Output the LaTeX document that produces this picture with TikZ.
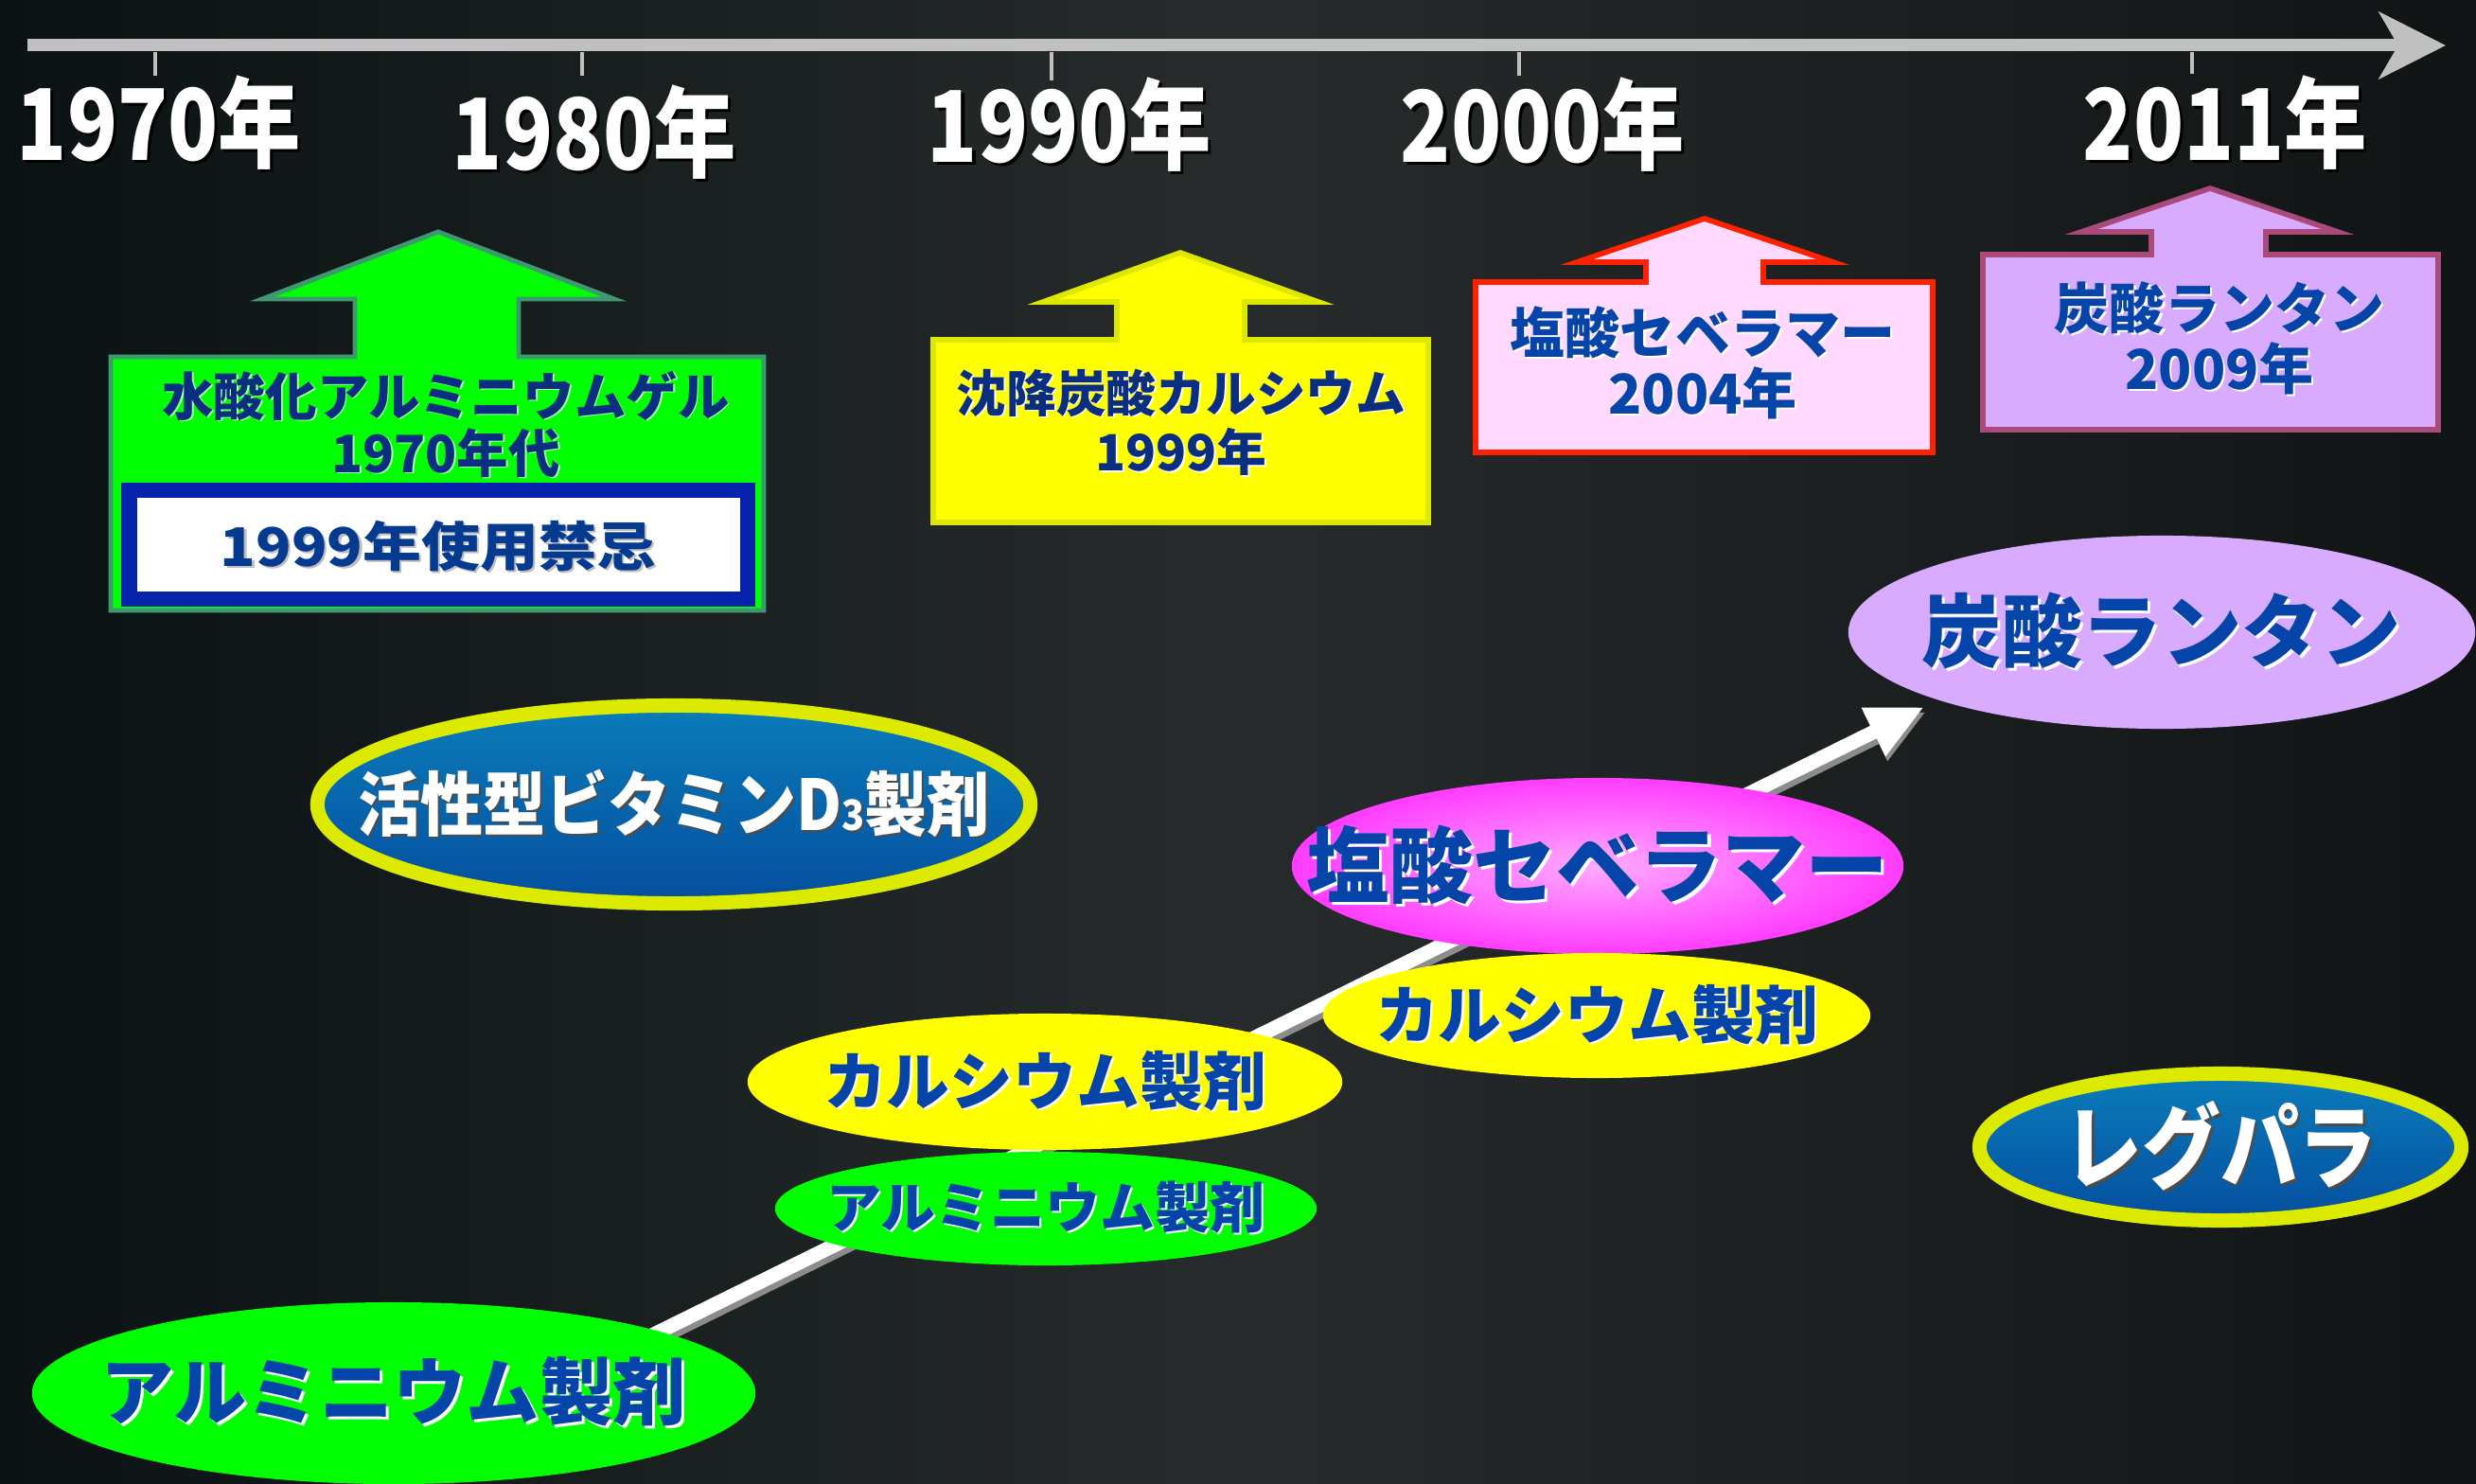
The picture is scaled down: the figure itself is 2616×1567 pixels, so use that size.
\documentclass[tikz,border=0pt]{standalone}
\usepackage{fontspec}
\usepackage{graphicx}
\newfontfamily\jp{Noto Sans CJK JP}
\usetikzlibrary{shapes.geometric,arrows.meta}
\definecolor{bgL}{HTML}{0B1213}
\definecolor{bgM}{HTML}{272B2B}
\definecolor{bgR}{HTML}{101414}
\definecolor{axisgray}{HTML}{C0C0C0}
\definecolor{navy}{HTML}{0A2E80}
\definecolor{blu}{HTML}{0544A8}
\definecolor{greenF}{HTML}{00FF00}
\definecolor{greenB}{HTML}{3D9A70}
\definecolor{yelF}{HTML}{FFFF00}
\definecolor{yelB}{HTML}{DCE800}
\definecolor{pinkF}{HTML}{FFD9FF}
\definecolor{redB}{HTML}{FF2200}
\definecolor{lavF}{HTML}{D8ABFF}
\definecolor{mauveB}{HTML}{A94A7A}
\definecolor{banBlue}{HTML}{0522AA}
\definecolor{ring}{HTML}{DCEA00}
\definecolor{vTop}{HTML}{0A7CBA}
\definecolor{vBot}{HTML}{054E9E}
\definecolor{magIn}{HTML}{FFAAFF}
\definecolor{magOut}{HTML}{FF3CFF}
\newcommand\shd[2]{\leavevmode\rlap{\kern0.035em\raisebox{-0.035em}{\color{#1}#2}}#2}
\newcommand\fz[2]{\fontsize{#1}{#2}\selectfont}
\newcommand\yrtxt[1]{\scalebox{0.92}[1.1]{\shd{black}{#1}}}
\tikzset{
  yr/.style={inner sep=0pt, text=white, font=\jp\bfseries\fz{27pt}{30pt}},
  btxt/.style={inner sep=0pt, align=center, font=\jp\bfseries\fz{#1}{1.1\dimexpr#1\relax}},
  callout/.style={line join=miter, line width=1.6pt},
  ell/.style={ellipse, inner sep=0pt},
  etxt/.style={inner sep=0pt, text=blu, font=\jp\bfseries\fz{#1}{#1}},
  tickline/.style={draw=axisgray, line width=1.15pt},
}
\begin{document}
\begin{tikzpicture}[x=0.01cm,y=-0.01cm]
\useasboundingbox (0,0) rectangle (2616,1567);
\shade[left color=bgL, right color=bgR, middle color=bgM] (0,0) rectangle (2616,1567);

% timeline
\coordinate (axS) at (29,48);
\coordinate (axE) at (2584,48);
\draw[line width=3.7pt, axisgray, -{Stealth[length=20pt,width=20pt,inset=5.7pt]}] (axS) -- (axE);
\draw[tickline] (164,55) -- (164,80);
\draw[tickline] (615,55) -- (615,80);
\draw[tickline] (1111,55) -- (1111,85);
\draw[tickline] (1605,55) -- (1605,80);
\draw[tickline] (2316,55) -- (2316,78);

\node[yr] (y70) at (168,131) {\yrtxt{1970年}};
\node[yr] (y80) at (628,141) {\yrtxt{1980年}};
\node[yr] (y90) at (1130,133) {\yrtxt{1990年}};
\node[yr] (y00) at (1630,133) {\yrtxt{2000年}};
\node[yr] (y11) at (2351,131) {\yrtxt{2011年}};

% callout 1 (green)
\filldraw[callout, fill=greenF, draw=greenB, line width=1.4pt]
  (463,245) -- (649,316) -- (548,316) -- (548,377) -- (807,377) -- (807,645)
  -- (117,645) -- (117,377) -- (375,377) -- (375,316) -- (277,316) -- cycle;
\fill[banBlue] (128,510) rectangle (798,641);
\fill[white] (145,526) rectangle (782,625);
\node[btxt=15.5pt, text=navy] (alTxt) at (471,449)
  {\shd{white!70!greenF}{水酸化アルミニウムゲル}\\\shd{white!70!greenF}{1970年代}};
\node[btxt=16pt, text=blu!85!black] (banTxt) at (463,578)
  {\scalebox{1.1}[1]{\shd{black!25}{1999年使用禁忌}}};

% callout 2 (yellow)
\filldraw[callout, fill=yelF, draw=yelB]
  (1247,267) -- (1393,319) -- (1315,319) -- (1315,359) -- (1509,359) -- (1509,552)
  -- (986,552) -- (986,359) -- (1180,359) -- (1180,319) -- (1102,319) -- cycle;
\node[btxt=15pt, text=navy] (caTxt) at (1248,447)
  {\shd{white}{沈降炭酸カルシウム}\\[1.2pt]\shd{white}{1999年}};

% callout 3 (pink)
\filldraw[callout, fill=pinkF, draw=redB]
  (1801,231) -- (1937,277) -- (1863,277) -- (1863,298) -- (2042,298) -- (2042,478)
  -- (1559,478) -- (1559,298) -- (1739,298) -- (1739,277) -- (1666,277) -- cycle;
\node[btxt=16.5pt, text=blu] (sevTxt) at (1799,384)
  {\shd{white}{塩酸セベラマー}\\\shd{white}{2004年}};

% callout 4 (lavender)
\filldraw[callout, fill=lavF, draw=mauveB]
  (2335,199) -- (2470,245) -- (2394,245) -- (2394,269) -- (2576,269) -- (2576,454)
  -- (2095,454) -- (2095,269) -- (2273,269) -- (2273,245) -- (2199,245) -- cycle;
\node[btxt=16.5pt, text=blu] (lanTxt) at (2345,358)
  {\shd{white}{炭酸ランタン}\\\shd{white}{2009年}};

% trend arrow (behind ellipses)
\coordinate (tS) at (640,1435);
\coordinate (tE) at (2033,747);
\draw[line width=4.8pt, black!45, -{Triangle[length=17pt,width=15pt]}] ([shift={(2,5)}]tS) -- ([shift={(2,5)}]tE);
\draw[line width=4.27pt, white, -{Triangle[length=17pt,width=15pt]}] (tS) -- (tE);

% ellipses
\node[ell, draw=ring, line width=4.27pt, top color=vTop, bottom color=vBot,
      minimum width=7.53cm, minimum height=2.09cm] (vitE) at (712,850) {};
\node[inner sep=0pt, text=white, font=\jp\bfseries\fz{20pt}{20pt}] (vitT) at (vitE.center)
  {\scalebox{0.94}[1.05]{\shd{black!70}{活性型ビタミンD{\fz{12pt}{12pt}3}製剤}}};

\node[ell, fill=lavF, minimum width=6.62cm, minimum height=2.04cm] (lanE) at (2284,668) {};
\node[etxt=24pt] (lanT) at (lanE.center) {\shd{white}{炭酸ランタン}};

\node[ell, inner color=magIn, outer color=magOut, minimum width=6.46cm, minimum height=1.86cm] (sevE) at (1688,915) {};
\node[etxt=25pt] (sevT) at (sevE.center) {\shd{white}{塩酸セベラマー}};

\node[ell, fill=yelF, minimum width=5.78cm, minimum height=1.32cm] (caRE) at (1687,1073) {};
\node[etxt=19pt] (caRT) at (caRE.center) {\shd{white}{カルシウム製剤}};

\node[ell, fill=yelF, minimum width=6.28cm, minimum height=1.44cm] (caLE) at (1104,1143) {};
\node[etxt=19pt] (caLT) at (caLE.center) {\shd{white}{カルシウム製剤}};

\node[ell, fill=greenF, minimum width=5.72cm, minimum height=1.20cm] (alME) at (1105,1277) {};
\node[etxt=16.5pt] (alMT) at (alME.center) {\shd{white}{アルミニウム製剤}};

\node[ell, fill=greenF, minimum width=7.64cm, minimum height=1.92cm] (alBE) at (416,1472) {};
\node[etxt=22pt] (alBT) at (alBE.center) {\shd{white}{アルミニウム製剤}};

\node[ell, draw=ring, line width=4.27pt, top color=vTop, bottom color=vBot,
      minimum width=5.09cm, minimum height=1.55cm] (regE) at (2346,1212) {};
\node[inner sep=0pt, text=white, font=\jp\bfseries\fz{24pt}{24pt}] (regT) at (regE.center)
  {\scalebox{0.98}[1.15]{\shd{black!70}{レグパラ}}};
\end{tikzpicture}
\end{document}
